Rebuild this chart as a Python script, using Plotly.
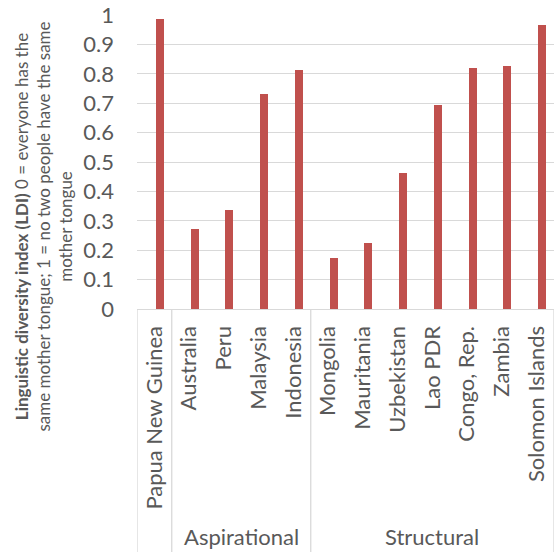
import plotly.graph_objects as go

# data
countries = ["Papua New Guinea", "Australia", "Peru", "Malaysia", "Indonesia",
             "Mongolia", "Mauritania", "Uzbekistan", "Lao PDR", "Congo, Rep.",
             "Zambia", "Solomon Islands"]
groups = ["", "Aspirational", "Aspirational", "Aspirational", "Aspirational",
          "Structural", "Structural", "Structural", "Structural", "Structural",
          "Structural", "Structural"]
ldi = [0.985, 0.271, 0.336, 0.733, 0.813, 0.175, 0.224, 0.463, 0.694, 0.819, 0.827, 0.967]
y_ticks = [0, 0.1, 0.2, 0.3, 0.4, 0.5, 0.6, 0.7, 0.8, 0.9, 1]

FONT = "Lato"
GREY = "#595959"
LINE = "#d9d9d9"

idx = list(range(len(countries)))

fig = go.Figure()
fig.add_trace(go.Bar(
    x=idx,
    y=ldi,
    width=0.23,
    offset=0.04,
    marker=dict(color="#c0504d", line=dict(width=0)),
    showlegend=False,
))

# group spans: first/last index of each group label
spans = []
start = 0
for i in range(1, len(groups) + 1):
    if i == len(groups) or groups[i] != groups[start]:
        spans.append((groups[start], start, i - 1))
        start = i

bottom = -0.83
for name, a, b in spans:
    fig.add_shape(type="line", xref="x", yref="paper", x0=a - 0.5, x1=a - 0.5,
                  y0=0, y1=bottom, line=dict(color=LINE, width=1.3))
    if name:
        fig.add_annotation(x=(a + b) / 2, y=-0.775, xref="x", yref="paper",
                           text=name, showarrow=False, yanchor="middle",
                           font=dict(family=FONT, size=22, color=GREY))
fig.add_shape(type="line", xref="x", yref="paper", x0=len(groups) - 0.5,
              x1=len(groups) - 0.5, y0=0, y1=bottom, line=dict(color=LINE, width=1.3))

fig.add_annotation(
    x=-0.224, y=0.279, xref="paper", yref="paper",
    text="<b>Linguistic diversity index (LDI)</b> 0 = everyone has the<br>"
         "same mother tongue; 1 = no two people have the same<br>mother tongue",
    textangle=-90, showarrow=False, align="center",
    xanchor="center", yanchor="middle",
    font=dict(family=FONT, size=17, color=GREY),
)

fig.update_layout(
    width=556, height=552,
    margin=dict(l=137, r=2, t=15, b=243),
    plot_bgcolor="white", paper_bgcolor="white",
    font=dict(family=FONT, color=GREY),
    bargap=0,
)
fig.update_xaxes(
    range=[-0.5, len(countries) - 0.5], automargin=False,
    tickmode="array", tickvals=idx, ticktext=countries,
    tickangle=-90, tickfont=dict(size=22, color=GREY),
    showgrid=False, showline=True, linecolor=LINE, linewidth=1.3,
    ticks="", ticklabelstandoff=7,
)
fig.update_yaxes(
    range=[0, 1], automargin=False,
    tickvals=y_ticks, ticktext=[f"{v:g}" for v in y_ticks],
    tickfont=dict(size=22, color=GREY),
    showgrid=True, gridcolor=LINE, gridwidth=1.3, zeroline=False,
    ticks="", ticklabelstandoff=22,
)

# drop the default page margin so the figure sits at the window's corner
fig.write_html("out.html", config={"displayModeBar": False},
               post_script="document.body.style.margin='0';")
